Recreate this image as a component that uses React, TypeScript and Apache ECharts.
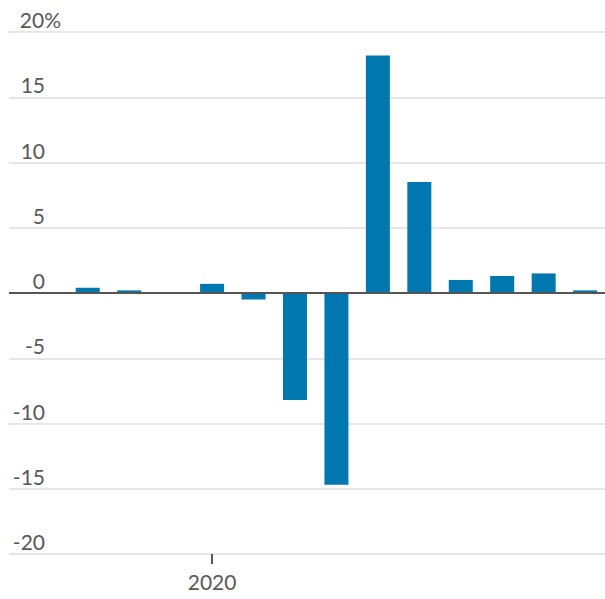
import React, { useEffect, useRef } from "react";
import * as echarts from "echarts";

// Monthly change, percent
const months = [
  "Oct 2019", "Nov 2019", "Dec 2019", "Jan 2020", "Feb 2020", "Mar 2020", "Apr 2020",
  "May 2020", "Jun 2020", "Jul 2020", "Aug 2020", "Sep 2020", "Oct 2020",
];
const changes = [0.4, 0.2, 0, 0.7, -0.5, -8.2, -14.7, 18.2, 8.5, 1.0, 1.3, 1.5, 0.2];

// Year marker on the time axis (index into months)
const yearTickIndex = [3];
const yearTickLabels = ["2020"];

const yMin = -20;
const yMax = 20;
const yStep = 5;

const BAR = "#0077ae";
const TEXT = "#585858";
const FONT = "Lato, 'Open Sans', sans-serif";

export default function App() {
  const ref = useRef<HTMLDivElement>(null);

  useEffect(() => {
    if (!ref.current) return;
    const chart = echarts.init(ref.current, undefined, { renderer: "svg" });
    chart.setOption({
      animation: false,
      backgroundColor: "#ffffff",
      grid: { left: 9, right: 0, top: 32, bottom: 45, containLabel: false },
      xAxis: {
        type: "value",
        min: -1.9,
        max: 12.48,
        splitLine: { show: false },
        axisLine: { show: false, onZero: false },
        axisTick: {
          show: true,
          customValues: yearTickIndex,
          length: 10,
          lineStyle: { color: "#555", width: 2 },
        },
        axisLabel: {
          customValues: yearTickIndex,
          formatter: (v: number) => yearTickLabels[yearTickIndex.indexOf(Math.round(v))] ?? "",
          color: TEXT,
          fontFamily: FONT,
          fontSize: 21,
          margin: 17,
        },
      },
      yAxis: {
        type: "value",
        min: yMin,
        max: yMax,
        interval: yStep,
        axisLine: { show: false },
        axisTick: { show: false },
        splitLine: { lineStyle: { color: "#e6e6e6", width: 2 } },
        axisLabel: {
          inside: true,
          align: "left",
          verticalAlign: "bottom",
          margin: 0,
          padding: [0, 0, 2, 0],
          // numbers right-aligned in a fixed box; the top label's "%" hangs past it
          formatter: (v: number) => (v === yMax ? `{t|${v}%}` : `{n|${v}}`),
          rich: {
            n: { color: TEXT, fontFamily: FONT, fontSize: 21, width: 36, align: "right" },
            t: { color: TEXT, fontFamily: FONT, fontSize: 21, width: 52, align: "right" },
          },
        },
      },
      series: [
        {
          type: "bar",
          barWidth: 24,
          itemStyle: { color: BAR },
          data: changes.map((v, i) => [i, v]),
          markLine: {
            silent: true,
            symbol: "none",
            label: { show: false },
            lineStyle: { color: "#555", width: 2, type: "solid" },
            data: [{ yAxis: 0 }],
          },
        },
      ],
    });
    return () => chart.dispose();
  }, []);

  return (
    <div
      ref={ref}
      style={{ position: "fixed", left: 0, top: 0, width: 605, height: 599 }}
    />
  );
}
